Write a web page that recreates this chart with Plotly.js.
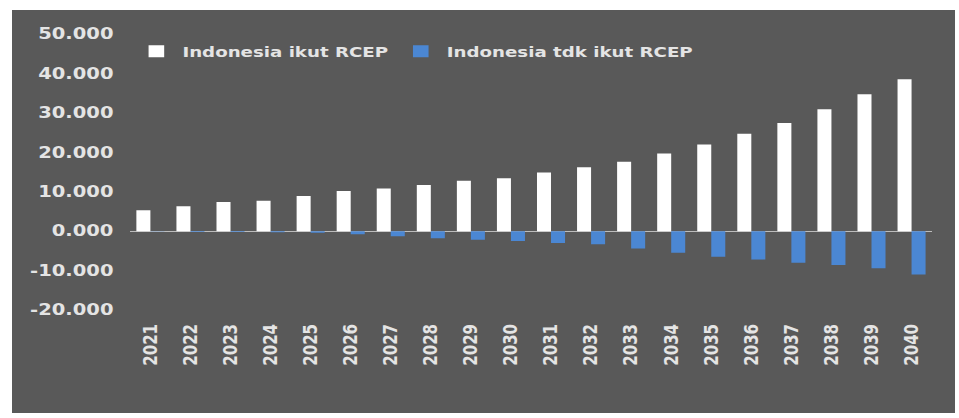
<!DOCTYPE html>
<html>
<head>
<meta charset="utf-8">
<script src="https://cdn.plot.ly/plotly-3.0.1.min.js"></script>
<style>
  html, body { margin: 0; padding: 0; background: #ffffff; width: 959px; height: 418px; overflow: hidden; }
  /* chart panel: drawn at 725px wide, then widened horizontally to 943px */
  #chart {
    position: absolute; left: 12px; top: 10px;
    width: 725px; height: 403px;
    transform: scaleX(1.3007); transform-origin: 0 0;
  }
</style>
</head>
<body>
<div id="chart"></div>
<script>
// Years on the category axis
const years = ['2021','2022','2023','2024','2025','2026','2027','2028','2029','2030',
               '2031','2032','2033','2034','2035','2036','2037','2038','2039','2040'];

// Scenario: Indonesia joins RCEP
const ikutRCEP = [5.3, 6.3, 7.4, 7.7, 8.9, 10.2, 10.8, 11.7, 12.8, 13.4,
                  14.9, 16.2, 17.6, 19.7, 22.0, 24.7, 27.4, 30.9, 34.7, 38.5];

// Scenario: Indonesia stays out of RCEP
const tdkIkutRCEP = [-0.1, -0.2, -0.2, -0.3, -0.4, -0.8, -1.3, -1.8, -2.2, -2.5,
                     -3.0, -3.3, -4.4, -5.5, -6.5, -7.2, -8.0, -8.6, -9.4, -11.0];

// Value axis ticks
const yTickVals = [-20, -10, 0, 10, 20, 30, 40, 50];
const yTickText = ['-20.000', '-10.000', '0.000', '10.000', '20.000', '30.000', '40.000', '50.000'];

const textColor = '#e4e4e4';
const panelColor = '#595959';

const traces = [
  {
    type: 'bar',
    name: 'Indonesia ikut RCEP',
    x: years,
    y: ikutRCEP,
    marker: { color: '#ffffff', line: { width: 0 } },
    hoverinfo: 'x+y+name'
  },
  {
    type: 'bar',
    name: 'Indonesia tdk ikut RCEP',
    x: years,
    y: tdkIkutRCEP,
    marker: { color: '#4b87d3', line: { width: 0 } },
    hoverinfo: 'x+y+name'
  }
];

const layout = {
  width: 725,
  height: 403,
  margin: { l: 91, r: 18, t: 24, b: 103, pad: 0 },
  paper_bgcolor: panelColor,
  plot_bgcolor: panelColor,
  barmode: 'group',
  bargap: 0.3,
  bargroupgap: 0,
  font: { family: 'DejaVu Sans', color: textColor, size: 14, weight: 'bold' },
  showlegend: true,
  legend: {
    orientation: 'h',
    x: 0, xanchor: 'left',
    y: 0.936, yanchor: 'middle',
    bgcolor: 'rgba(0,0,0,0)',
    borderwidth: 0,
    font: { family: 'DejaVu Sans', size: 14, color: textColor, weight: 'bold' },
    traceorder: 'normal'
  },
  xaxis: {
    type: 'category',
    tickangle: -90,
    ticks: '',
    ticklabelstandoff: 10,
    showgrid: false,
    showline: false,
    zeroline: false,
    tickfont: { family: 'DejaVu Sans', size: 15, color: textColor, weight: 'bold' }
  },
  yaxis: {
    range: [-20, 50],
    tickmode: 'array',
    tickvals: yTickVals,
    ticktext: yTickText,
    ticks: '',
    ticklabelstandoff: 12,
    showgrid: false,
    showline: false,
    zeroline: true,
    zerolinecolor: '#bcbcbc',
    zerolinewidth: 1,
    tickfont: { family: 'DejaVu Sans', size: 15, color: textColor, weight: 'bold' }
  }
};

Plotly.newPlot('chart', traces, layout, { displayModeBar: false, staticPlot: true });
</script>
</body>
</html>
